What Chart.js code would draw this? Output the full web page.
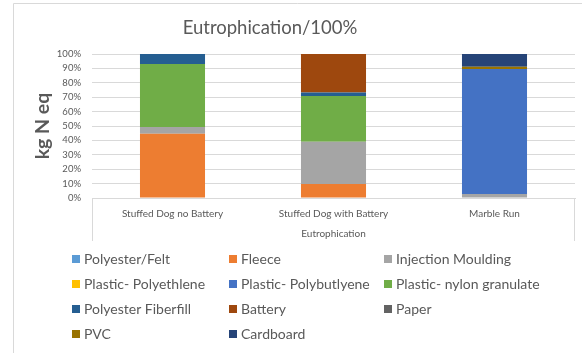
<!DOCTYPE html>
<html>
<head>
<meta charset="utf-8">
<script src="https://cdn.jsdelivr.net/npm/chart.js@4/dist/chart.umd.min.js"></script>
<style>
  html, body { margin: 0; padding: 0; background: #fff; }
  #wrap { width: 582px; height: 353px; }
</style>
</head>
<body>
<div id="wrap"><canvas id="c" width="582" height="353"></canvas></div>
<script>
// Eutrophication share per material, percent of each product's total
const categories = ['Stuffed Dog no Battery', 'Stuffed Dog with Battery', 'Marble Run'];

const polyesterFelt      = [0, 0, 0];
const fleece             = [44.7, 9.8, 0];
const injectionMoulding  = [4.6, 29.3, 2.8];
const polyethlene        = [0, 0, 0];
const polybutylene       = [0, 0, 86.7];
const nylonGranulate     = [43.7, 31.8, 0];
const polyesterFiberfill = [7.0, 2.4, 0];
const battery            = [0, 26.7, 0];
const paper              = [0, 0, 0];
const pvc                = [0, 0, 1.6];
const cardboard          = [0, 0, 8.9];

const seriesNames = ['Polyester/Felt', 'Fleece', 'Injection Moulding', 'Plastic- Polyethlene',
  'Plastic- Polybutlyene', 'Plastic- nylon granulate', 'Polyester Fiberfill', 'Battery',
  'Paper', 'PVC', 'Cardboard'];
const seriesValues = [polyesterFelt, fleece, injectionMoulding, polyethlene, polybutylene,
  nylonGranulate, polyesterFiberfill, battery, paper, pvc, cardboard];
const seriesColors = ['#5B9BD5', '#ED7D31', '#A5A5A5', '#FFC000', '#4472C4', '#70AD47',
  '#255E91', '#9E480E', '#636363', '#997300', '#264478'];

const yTicks = [0, 10, 20, 30, 40, 50, 60, 70, 80, 90, 100];

const FONT = 'Lato, "Open Sans", sans-serif';
const TEXT = '#595959';
const LINE = '#d9d9d9';

// Chart frame, title, category box lines and three-column legend
const decorations = {
  id: 'decorations',
  beforeDraw(chart) {
    const ctx = chart.ctx;
    ctx.save();
    ctx.strokeStyle = LINE;
    ctx.lineWidth = 1;
    ctx.beginPath();
    ctx.moveTo(13.5, 353);
    ctx.lineTo(13.5, 3.5);
    ctx.lineTo(582, 3.5);
    ctx.stroke();
    ctx.restore();
  },
  afterDraw(chart) {
    const ctx = chart.ctx;
    const area = chart.chartArea;
    ctx.save();

    // title
    ctx.fillStyle = TEXT;
    ctx.font = '18.5px ' + FONT;
    ctx.textAlign = 'center';
    ctx.textBaseline = 'middle';
    ctx.fillText('Eutrophication/100%', 270, 28);

    // outer edges of the category axis box
    ctx.strokeStyle = LINE;
    ctx.lineWidth = 1;
    ctx.beginPath();
    const l = Math.round(area.left) + 0.5, r = Math.round(area.right) - 0.5;
    ctx.moveTo(l, area.bottom);
    ctx.lineTo(l, 241);
    ctx.moveTo(r, area.bottom);
    ctx.lineTo(r, 241);
    ctx.stroke();

    // legend, row-major in three columns
    const colX = [72, 229, 384];
    const rowY = [259, 284, 309, 334];
    ctx.font = '14px ' + FONT;
    ctx.textAlign = 'left';
    ctx.textBaseline = 'middle';
    chart.data.datasets.forEach((ds, i) => {
      const x = colX[i % 3];
      const y = rowY[Math.floor(i / 3)];
      ctx.fillStyle = ds.backgroundColor;
      ctx.fillRect(x, y - 4, 8, 8);
      ctx.fillStyle = TEXT;
      ctx.fillText(ds.label, x + 12, y + 0.5);
    });
    ctx.restore();
  }
};

new Chart(document.getElementById('c'), {
  type: 'bar',
  data: {
    labels: categories,
    datasets: seriesNames.map((name, i) => ({
      label: name,
      data: seriesValues[i],
      backgroundColor: seriesColors[i],
      borderWidth: 0,
      barPercentage: 0.404,
      categoryPercentage: 1
    }))
  },
  options: {
    responsive: false,
    animation: false,
    devicePixelRatio: 1,
    layout: { padding: { top: 54, right: 7, bottom: 105, left: 0 } },
    plugins: {
      legend: { display: false },
      title: { display: false },
      tooltip: { enabled: false }
    },
    scales: {
      x: {
        stacked: true,
        afterFit(scale) { scale.height = 50; },
        grid: { display: false },
        border: { display: true, color: LINE },
        ticks: {
          color: TEXT,
          font: { family: FONT, size: 10 },
          padding: 2,
          maxRotation: 0
        },
        title: {
          display: true,
          text: 'Eutrophication',
          color: TEXT,
          font: { family: FONT, size: 10, lineHeight: 1.2 },
          padding: { top: 0, bottom: 8 }
        }
      },
      y: {
        stacked: true,
        min: 0,
        max: 100,
        afterFit(scale) { scale.width = 92; },
        afterBuildTicks(scale) { scale.ticks = yTicks.map(v => ({ value: v })); },
        grid: { color: LINE, drawTicks: false },
        border: { display: false },
        ticks: {
          color: TEXT,
          font: { family: FONT, size: 9.5 },
          padding: 11,
          callback: v => v + '%'
        },
        title: {
          display: true,
          text: 'kg N eq',
          color: TEXT,
          font: { family: FONT, size: 19.5, weight: 'bold', lineHeight: 1.2 },
          padding: { top: 31, bottom: 0 }
        }
      }
    }
  },
  plugins: [decorations]
});
</script>
</body>
</html>
